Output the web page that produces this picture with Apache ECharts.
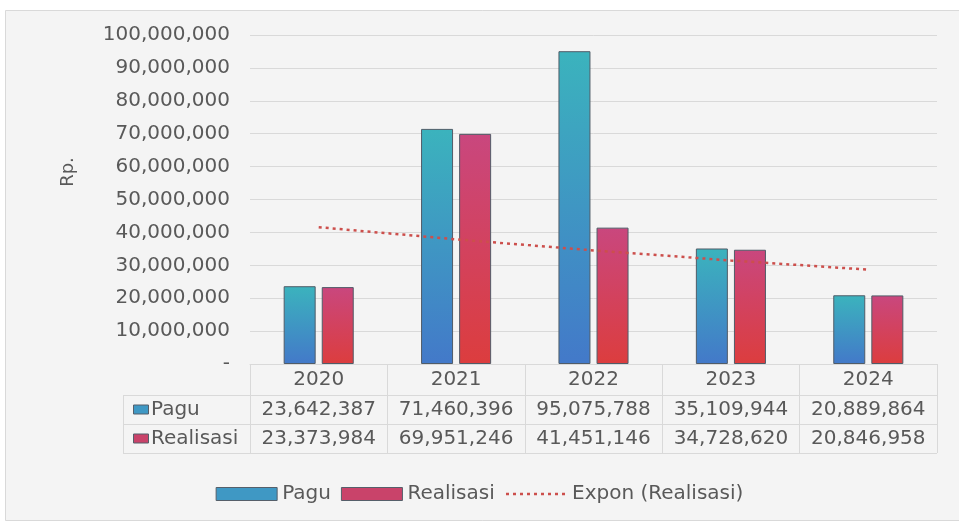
<!DOCTYPE html>
<html>
<head>
<meta charset="utf-8">
<script src="https://cdn.jsdelivr.net/npm/echarts@6/dist/echarts.min.js"></script>
<style>
  html, body { margin: 0; padding: 0; background: #ffffff; }
  #chart { width: 959px; height: 525px; }
</style>
</head>
<body>
<div id="chart"></div>
<script>
// Budget (Pagu) vs realisation (Realisasi), in rupiah
const years = ['2020', '2021', '2022', '2023', '2024'];
const pagu = [23642387, 71460396, 95075788, 35109944, 20889864];
const realisasi = [23373984, 69951246, 41451146, 34728620, 20846958];
const yTicks = { min: 0, max: 100000000, interval: 10000000 };

// Exponential least-squares trendline of Realisasi (y = a * e^(b x), x = 1..n)
function exponentialTrend(values) {
  const n = values.length;
  const xs = values.map((_, i) => i + 1);
  const ls = values.map(v => Math.log(v));
  const mx = xs.reduce((s, v) => s + v, 0) / n;
  const ml = ls.reduce((s, v) => s + v, 0) / n;
  let sxy = 0, sxx = 0;
  for (let i = 0; i < n; i++) {
    sxy += (xs[i] - mx) * (ls[i] - ml);
    sxx += (xs[i] - mx) * (xs[i] - mx);
  }
  const b = sxy / sxx;
  const lnA = ml - b * mx;
  return xs.map(x => Math.exp(lnA + b * x));
}
const realisasiTrend = exponentialTrend(realisasi);

const fmt = v => Math.round(v).toLocaleString('en-US');
const FONT = 'DejaVu Sans';
const TEXT = '#595959';
const LINE = '#d9d9d9';

const G = { left: 250, right: 22, top: 35, bottom: 161 };
const W = 959, H = 525;
const plotBottom = H - G.bottom;
const tableLeft = 123, tableRight = W - G.right;
const rowLines = [plotBottom + 31, plotBottom + 60, plotBottom + 89];

const chart = echarts.init(document.getElementById('chart'), null, { renderer: 'canvas' });

const paguGradient = new echarts.graphic.LinearGradient(0, 0, 0, 1, [
  { offset: 0, color: '#3bb3bd' },
  { offset: 1, color: '#4379c9' }
]);
const realGradient = new echarts.graphic.LinearGradient(0, 0, 0, 1, [
  { offset: 0, color: '#c9477e' },
  { offset: 1, color: '#dc3d3e' }
]);

const graphics = [
  { type: 'rect', z: -10, silent: true,
    shape: { x: 5.5, y: 10.5, width: 980, height: 510 },
    style: { fill: '#f4f4f4', stroke: LINE, lineWidth: 1 } },
  { type: 'text', silent: true, x: 68, y: 172, rotation: Math.PI / 2,
    style: { text: 'Rp.', font: '18px "' + FONT + '"', fill: TEXT, align: 'center', verticalAlign: 'middle' } },
  // data table frame
  { type: 'line', silent: true, shape: { x1: tableLeft + 0.5, y1: rowLines[0], x2: tableLeft + 0.5, y2: rowLines[2] },
    style: { stroke: LINE, lineWidth: 1 } }
];
rowLines.forEach(y => graphics.push({
  type: 'line', silent: true,
  shape: { x1: tableLeft, y1: y + 0.5, x2: tableRight, y2: y + 0.5 },
  style: { stroke: LINE, lineWidth: 1 }
}));
// row headers with colour keys
[['Pagu', '#3f98c4', (rowLines[0] + rowLines[1]) / 2],
 ['Realisasi', '#c9436a', (rowLines[1] + rowLines[2]) / 2]].forEach(([name, col, cy]) => {
  graphics.push({ type: 'rect', silent: true,
    shape: { x: 133.5, y: cy - 4.5, width: 15, height: 9 },
    style: { fill: col, stroke: '#555f6a', lineWidth: 1 } });
  graphics.push({ type: 'text', silent: true, x: 151, y: cy,
    style: { text: name, font: '20px "' + FONT + '"', fill: TEXT, align: 'left', verticalAlign: 'middle' } });
});

chart.setOption({
  animation: false,
  backgroundColor: 'transparent',
  textStyle: { fontFamily: FONT },
  graphic: graphics,
  grid: { left: G.left, right: G.right, top: G.top, bottom: G.bottom, containLabel: false },
  legend: {
    bottom: 16, left: 'center',
    itemWidth: 61, itemHeight: 13, itemGap: 10,
    textStyle: { fontFamily: FONT, fontSize: 20, color: TEXT },
    data: [
      { name: 'Pagu', icon: 'rect', itemStyle: { color: '#3f98c4', borderColor: '#555f6a', borderWidth: 1 } },
      { name: 'Realisasi', icon: 'rect', itemStyle: { color: '#c9436a', borderColor: '#555f6a', borderWidth: 1 } },
      { name: 'Expon (Realisasi)',
        itemStyle: { color: 'rgba(0,0,0,0)', borderWidth: 0, opacity: 0 },
        lineStyle: { color: '#cc4f4c', width: 2.5, type: [3, 4], opacity: 1 } }
    ]
  },
  xAxis: {
    type: 'category',
    data: years,
    axisLine: { show: true, lineStyle: { color: LINE, width: 1 } },
    axisTick: { show: true, length: 89, interval: 0, alignWithLabel: false, lineStyle: { color: LINE } },
    axisLabel: {
      interval: 0, margin: 1,
      formatter: (v, i) => '{y|' + v + '}\n{v|' + fmt(pagu[i]) + '}\n{v|' + fmt(realisasi[i]) + '}',
      rich: {
        y: { fontFamily: FONT, fontSize: 20, color: TEXT, lineHeight: 30 },
        v: { fontFamily: FONT, fontSize: 20, color: TEXT, lineHeight: 29 }
      }
    },
    splitLine: { show: false }
  },
  yAxis: {
    type: 'value',
    min: yTicks.min, max: yTicks.max, interval: yTicks.interval,
    axisLine: { show: false },
    axisTick: { show: false },
    axisLabel: {
      margin: 20, fontFamily: FONT, fontSize: 20, color: TEXT,
      formatter: v => v === 0 ? '-' : fmt(v)
    },
    splitLine: { lineStyle: { color: LINE, width: 1 } }
  },
  series: [
    {
      name: 'Pagu', type: 'bar', data: pagu,
      barWidth: 32, barGap: '19%',
      itemStyle: { color: paguGradient, borderColor: '#505c68', borderWidth: 1 }
    },
    {
      name: 'Realisasi', type: 'bar', data: realisasi,
      barWidth: 32, barGap: '19%',
      itemStyle: { color: realGradient, borderColor: '#505c68', borderWidth: 1 }
    },
    {
      name: 'Expon (Realisasi)', type: 'line', data: realisasiTrend,
      symbol: 'none', smooth: false, z: 5,
      itemStyle: { color: '#cc4f4c' },
      lineStyle: { color: '#cc4f4c', width: 2.5, type: [3, 4] }
    }
  ]
});
</script>
</body>
</html>
